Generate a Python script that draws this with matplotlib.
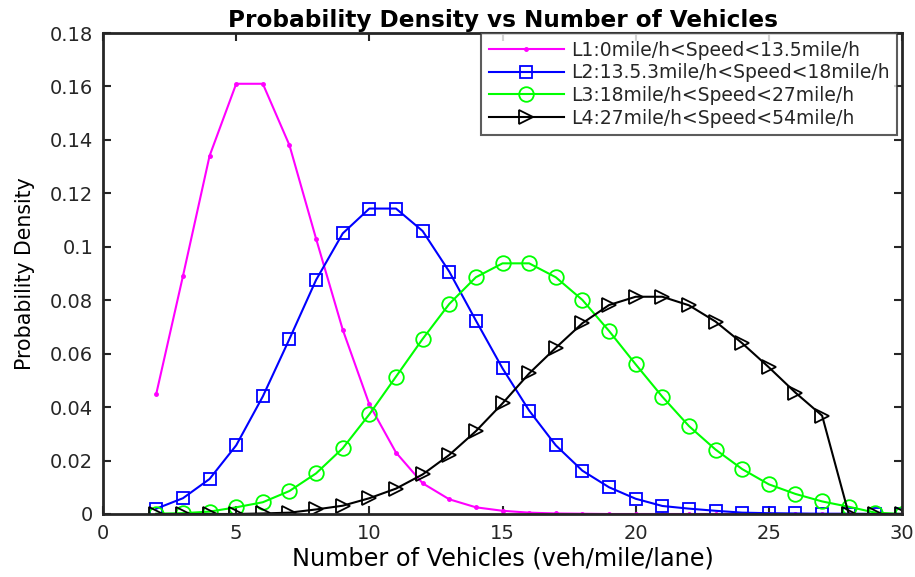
import numpy as np
import matplotlib
matplotlib.use("Agg")
import matplotlib.pyplot as plt
from matplotlib.ticker import FuncFormatter

# number of vehicles (veh/mile/lane)
x = list(range(2, 31))

# probability density for each speed level
l1 = [0.045, 0.089, 0.134, 0.161, 0.161, 0.138, 0.103, 0.069, 0.041, 0.023,
      0.0115, 0.0055, 0.0025, 0.0012, 0.0005, 0.0002, 0.0001, 0.0, 0.0, 0.0,
      0.0, 0.0, 0.0, 0.0, 0.0, 0.0, 0.0, 0.0, 0.0]
l2 = [0.002, 0.0059, 0.0131, 0.0257, 0.044, 0.0655, 0.0876, 0.105, 0.1143, 0.1143,
      0.1059, 0.0907, 0.0724, 0.0545, 0.0387, 0.0257, 0.0162, 0.010, 0.0057, 0.003,
      0.002, 0.0012, 0.0005, 0.0003, 0.0002, 0.0001, 0.0001, 0.0, 0.0]
l3 = [0.0001, 0.0003, 0.0009, 0.0025, 0.0044, 0.0086, 0.0152, 0.0246, 0.0373, 0.0514,
      0.0655, 0.0786, 0.0886, 0.0938, 0.0938, 0.0886, 0.0801, 0.0685, 0.056, 0.0439,
      0.0329, 0.0241, 0.0168, 0.0111, 0.0075, 0.0047, 0.0027, 0.0005, 0.0]
l4 = [0.0, 0.0, 0.0, 0.0, 0.0002, 0.0005, 0.0017, 0.0031, 0.0059, 0.0095,
      0.0148, 0.0221, 0.031, 0.0414, 0.0526, 0.0622, 0.0714, 0.0782, 0.0813, 0.0813,
      0.0781, 0.072, 0.0639, 0.0549, 0.0454, 0.0368, 0.0, 0.0, 0.0]

labels = ["L1:0mile/h<Speed<13.5mile/h",
          "L2:13.5.3mile/h<Speed<18mile/h",
          "L3:18mile/h<Speed<27mile/h",
          "L4:27mile/h<Speed<54mile/h"]

plt.rcParams["font.family"] = ["DejaVu Sans"]
plt.rcParams["text.color"] = "#262626"

fig = plt.figure(figsize=(9.15, 5.77), dpi=100)
ax = fig.add_axes([0.1126, 0.1092, 0.8732, 0.8336])

ax.plot(x, l1, color="#ff00ff", lw=1.5, marker="o", ms=2.5, label=labels[0])
ax.plot(x, l2, color="#0000ff", lw=1.5, marker="s", ms=8, mfc="none", mew=1.3, label=labels[1])
ax.plot(x, l3, color="#00ff00", lw=1.5, marker="o", ms=10.5, mfc="none", mew=1.3, label=labels[2])
ax.plot(x, l4, color="black", lw=1.5, marker=">", ms=10.5, mfc="none", mew=1.3, label=labels[3])

ax.set_xlim(0, 30)
ax.set_ylim(0, 0.18)
ax.set_xticks(np.arange(0, 31, 5))
ax.set_yticks(np.arange(0, 0.181, 0.02))
ax.yaxis.set_major_formatter(FuncFormatter(lambda v, p: "0" if abs(v) < 1e-9 else f"{v:.2f}".rstrip("0")))
ax.tick_params(direction="in", top=True, right=True, labelsize=14, width=1.5, length=6, pad=7,
               colors="#262626")
for s in ax.spines.values():
    s.set_linewidth(2)
    s.set_color("#262626")

ax.set_title("Probability Density vs Number of Vehicles", fontsize=16.7, fontweight="bold", pad=4,
             color="black")
ax.set_xlabel("Number of Vehicles (veh/mile/lane)", fontsize=17.3, labelpad=3)
ax.set_ylabel("Probability Density", fontsize=14.8, labelpad=11)

leg = ax.legend(loc="upper right", bbox_to_anchor=(0.994, 1.0), fontsize=13.5, fancybox=False,
                edgecolor="#333333", borderaxespad=0.0, handlelength=4.0, handletextpad=0.4,
                labelspacing=0.2, borderpad=0.4)
leg.get_frame().set_linewidth(1.5)
leg.set_zorder(5)

fig.savefig("out.png", dpi=100)
